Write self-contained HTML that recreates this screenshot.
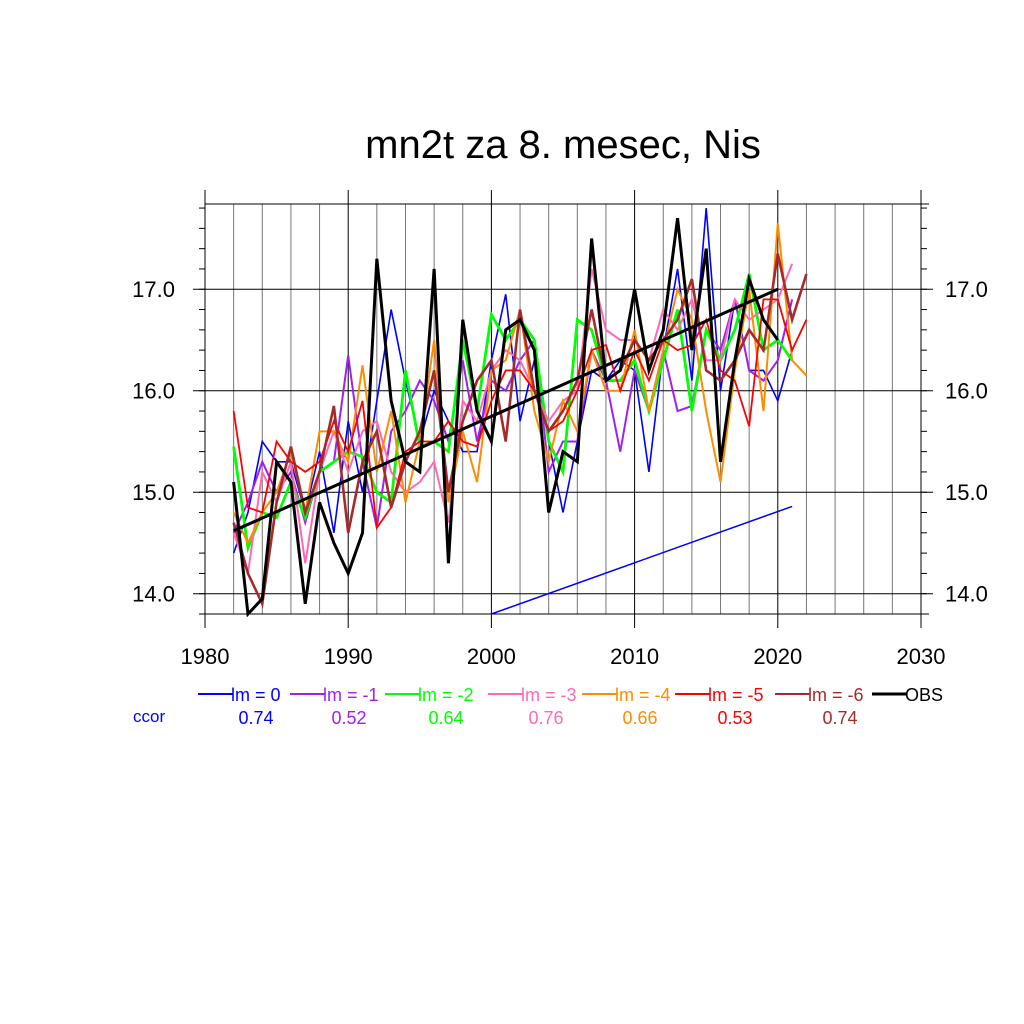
<!DOCTYPE html>
<html><head><meta charset="utf-8"><style>
html,body{margin:0;padding:0;background:#fff;}
svg{display:block;font-family:"Liberation Sans",sans-serif;}
</style></head><body>
<svg id="c" width="1024" height="1024" viewBox="0 0 1024 1024">
<text x="563" y="158" font-size="40" text-anchor="middle">mn2t za 8. mesec, Nis</text>
<g id="grid"></g>
<g id="axes"></g>
<g id="series"></g>
<g id="legend"></g>
</svg>
<script>
const yearStart1 = 1982;
const lm0 = [14.4,14.8,15.5,15.3,15.3,14.8,15.4,14.6,15.7,15.0,15.9,16.8,16.1,15.5,16.0,15.7,15.4,15.4,16.3,16.95,15.7,16.3,15.5,14.8,15.5,16.2,16.1,16.3,16.2,15.2,16.4,17.2,16.1,17.8,16.0,16.9,16.2,16.2,15.9,16.4];
const lm1 = [14.6,14.9,15.3,15.0,15.2,14.7,15.2,15.3,16.35,15.3,14.65,15.6,15.8,16.1,15.9,15.5,16.3,15.5,16.1,16.0,16.3,16.5,15.2,15.5,15.5,16.4,16.1,15.4,16.2,15.8,16.4,15.8,15.85,16.6,16.4,16.9,16.2,16.1,16.3,16.9];
const lm2 = [15.45,14.45,14.8,14.75,15.1,14.75,15.2,15.3,15.4,15.35,15.0,14.9,16.2,15.45,15.5,15.4,16.5,15.8,16.75,16.5,16.7,16.5,15.5,15.2,16.7,16.6,16.1,16.1,16.3,15.8,16.3,16.8,15.8,16.6,16.3,16.6,17.15,16.4,16.5,16.3];
const lm3 = [14.6,14.2,15.2,14.9,15.3,14.3,15.2,15.6,15.2,15.6,15.7,15.2,15.0,15.1,15.3,14.7,15.9,15.7,16.2,16.4,16.3,16.0,15.7,15.9,16.0,17.2,16.6,16.5,16.5,16.3,16.8,16.6,16.9,16.3,16.3,16.9,16.7,16.8,16.9,17.25];
const lm4 = [14.8,14.5,14.8,15.0,15.4,14.8,15.6,15.6,15.3,16.25,15.2,15.8,14.9,15.5,16.5,14.9,15.6,15.1,16.2,16.3,16.8,15.8,15.3,15.9,15.6,16.4,16.0,16.0,16.6,15.8,16.4,17.0,16.7,15.8,15.1,16.2,17.0,15.8,17.65,16.3,16.15];
const lm5 = [15.8,14.85,14.8,15.5,15.3,15.2,15.3,15.7,15.4,15.9,14.65,14.85,15.4,15.5,15.5,15.7,15.5,15.45,15.9,16.2,16.2,16.0,15.6,15.7,16.0,16.4,16.45,16.0,16.4,16.1,16.5,16.4,16.45,16.7,16.2,16.1,15.65,16.9,16.9,16.4,16.7];
const lm6 = [14.7,14.2,13.9,14.9,15.45,14.8,15.2,15.85,14.6,15.3,15.6,14.85,15.3,15.6,16.2,15.0,15.7,16.1,16.3,15.5,16.8,16.0,15.6,15.8,16.1,16.8,16.1,16.2,16.5,16.3,16.5,16.7,17.1,16.2,16.1,16.3,16.6,16.4,17.35,16.7,17.15];
const obs = [15.1,13.8,13.95,15.3,15.1,13.9,14.9,14.5,14.2,14.6,17.3,15.9,15.3,15.2,17.2,14.3,16.7,15.8,15.5,16.6,16.7,16.4,14.8,15.4,15.3,17.5,16.1,16.2,17.0,16.2,16.6,17.7,16.4,17.4,15.3,16.3,17.1,16.7,16.5];
const trendYears = [1982,2020];
const trendVals = [14.62,17.0];
const blueTrendYears = [2000,2021];
const blueTrendVals = [13.8,14.86];
const xTicks = [1980,1990,2000,2010,2020,2030];
const yTicks = [14.0,15.0,16.0,17.0];
const labels = ["lm = 0","lm = -1","lm = -2","lm = -3","lm = -4","lm = -5","lm = -6","OBS"];
const ccor = ["0.74","0.52","0.64","0.76","0.66","0.53","0.74"];

const colors=["#0000ff","#a020f0","#00ff00","#ff69b4","#ff8c00","#ff0000","#a52a2a","#000000"];
const X0=205,X1=921,Y0=204,Y1=614,XMIN=1980,XMAX=2030,YMIN=13.8,YMAX=17.84;
const sx=v=>X0+(v-XMIN)/(XMAX-XMIN)*(X1-X0);
const sy=v=>Y1-(v-YMIN)/(YMAX-YMIN)*(Y1-Y0);
const NS="http://www.w3.org/2000/svg";
function mk(tag,attrs,parent){const e=document.createElementNS(NS,tag);for(const k in attrs)e.setAttribute(k,attrs[k]);parent.appendChild(e);return e;}
const grid=document.getElementById('grid'),axes=document.getElementById('axes'),ser=document.getElementById('series'),leg=document.getElementById('legend');
for(let yr=1982;yr<2030;yr+=2){ if(yr%10===0)continue;
 const l=mk('line',{x1:sx(yr),x2:sx(yr),y1:Y0,y2:Y1,stroke:'#777','stroke-width':1},grid);
 
 }
xTicks.forEach(t=>{const l=mk('line',{x1:sx(t),x2:sx(t),y1:190,y2:628,stroke:'#000','stroke-width':1},axes);
 
 
 const tx=mk('text',{x:sx(t),y:664,'font-size':22,'text-anchor':'middle'},axes);tx.textContent=t;
 
 });
yTicks.forEach(t=>{const l=mk('line',{x1:X0-12,x2:X1+12,y1:sy(t),y2:sy(t),stroke:'#000','stroke-width':1},axes);
 
 
 const a=mk('text',{x:175,y:sy(t)+8,'font-size':22,'text-anchor':'end'},axes);a.textContent=t.toFixed(1);
 
 
 const b=mk('text',{x:945,y:sy(t)+8,'font-size':22,'text-anchor':'start'},axes);b.textContent=t.toFixed(1);
 
 });
for(let v=13.8;v<=17.81;v+=0.2){[[X0-6,X0],[X1,X1+6]].forEach(p=>{const l=mk('line',{x1:p[0],x2:p[1],y1:sy(v),y2:sy(v),stroke:'#000','stroke-width':1},axes);
 
 });}
[Y0,Y1].forEach(y=>{const l=mk('line',{x1:X0,x2:X1+8,y1:y,y2:y,stroke:'#000','stroke-width':1},axes);
 
 });
const l2=mk('line',{x1:X1,x2:X1,y1:190,y2:628,stroke:'#000','stroke-width':1},axes);


function poly(vals,start,color,w,name){const pts=vals.map((v,i)=>sx(start+i)+','+sy(v)).join(' ');
 const p=mk('polyline',{points:pts,fill:'none',stroke:color,'stroke-width':w,'stroke-linejoin':'miter'},ser);
 
 }
const all=[lm0,lm1,lm2,lm3,lm4,lm5,lm6];
const names=['series-lm-0','series-lm-1','series-lm-2','series-lm-3','series-lm-4','series-lm-5','series-lm-6'];
const widths=[1.6,2,2.8,2,2,1.8,2.6];
all.forEach((s,i)=>poly(s,yearStart1,colors[i],widths[i],names[i]));
poly(obs,yearStart1,'#000',3,'series-obs');
const tl=mk('line',{x1:sx(trendYears[0]),y1:sy(trendVals[0]),x2:sx(trendYears[1]),y2:sy(trendVals[1]),stroke:'#000','stroke-width':3},ser);


const bt=mk('line',{x1:sx(blueTrendYears[0]),y1:sy(blueTrendVals[0]),x2:sx(blueTrendYears[1]),y2:sy(blueTrendVals[1]),stroke:'#0000ff','stroke-width':1.5},ser);


const textX=[233,325,420,523,617,710,810,907];
const valX=[256,349,446,546,640,735,840];
labels.forEach((lb,i)=>{const c=colors[i];
 const ln=mk('line',{x1:textX[i]-35,x2:textX[i],y1:694,y2:694,stroke:c,'stroke-width':i===7?3:2},leg);
 
 
 const t=mk('text',{x:textX[i]-2,y:701,'font-size':18,fill:c},leg);t.textContent=lb;
 
 
 if(i<7){const v=mk('text',{x:valX[i],y:724,'font-size':18,fill:c,'text-anchor':'middle'},leg);v.textContent=ccor[i];
 
 }});
const cc=mk('text',{x:133,y:722,'font-size':17,fill:'#0000ff'},leg);cc.textContent='ccor';


</script>
</body></html>
